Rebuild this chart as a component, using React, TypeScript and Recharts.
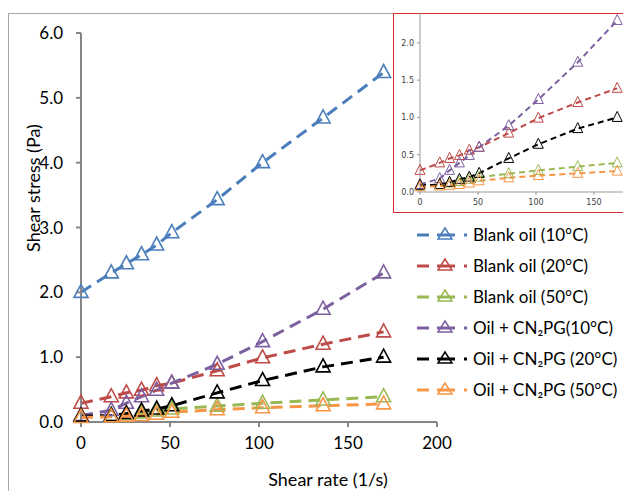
import React from "react";
import { LineChart, Line, XAxis, YAxis } from "recharts";

const shearRate = [0, 17, 25.5, 34, 42.5, 51, 76.5, 102, 136, 170];
const blank10 = [2.0, 2.3, 2.44, 2.58, 2.73, 2.92, 3.43, 4.0, 4.69, 5.39];
const blank20 = [0.29, 0.39, 0.45, 0.49, 0.56, 0.6, 0.79, 0.99, 1.2, 1.39];
const blank50 = [0.08, 0.1, 0.12, 0.14, 0.17, 0.2, 0.245, 0.29, 0.34, 0.39];
const cn10 = [0.1, 0.18, 0.29, 0.39, 0.49, 0.6, 0.89, 1.24, 1.74, 2.3];
const cn20 = [0.09, 0.1, 0.13, 0.17, 0.2, 0.25, 0.45, 0.64, 0.85, 1.0];
const cn50 = [0.07, 0.08, 0.09, 0.1, 0.12, 0.15, 0.19, 0.22, 0.25, 0.28];

const seriesNames = [
  "Blank oil (10°C)",
  "Blank oil (20°C)",
  "Blank oil (50°C)",
  "Oil + CN₂PG(10°C)",
  "Oil + CN₂PG (20°C)",
  "Oil + CN₂PG (50°C)",
];
const seriesKeys = ["blank10", "blank20", "blank50", "cn10", "cn20", "cn50"];
const seriesColors = ["#4a7ebb", "#be4b48", "#98b954", "#7d60a0", "#000000", "#f79646"];
const mainTicksX = [0, 50, 100, 150, 200];
const mainTicksY = [0, 1, 2, 3, 4, 5, 6];
const insetTicksX = [0, 50, 100, 150];
const insetTicksY = [0, 0.5, 1, 1.5, 2];

const seriesValues = [blank10, blank20, blank50, cn10, cn20, cn50];
const data = shearRate.map((x, i) => {
  const row: Record<string, number> = { x };
  seriesKeys.forEach((k, j) => {
    row[k] = seriesValues[j][i];
  });
  return row;
});

const tri = (color: string, hw: number, up: number, down: number, sw: number) => (props: any) => {
  const { cx, cy, index } = props;
  if (cx == null || cy == null) return <g key={`n${index}`} />;
  return (
    <path
      key={`t${index}`}
      d={`M${cx},${cy - up} L${cx - hw},${cy + down} L${cx + hw},${cy + down} Z`}
      fill="none"
      stroke={color}
      strokeWidth={sw}
      strokeLinejoin="miter"
    />
  );
};

const mainFont = "Lato, 'Open Sans', sans-serif";

const LegendContent = () => (
  <div style={{ fontFamily: mainFont, fontSize: 17, color: "#000" }}>
    {seriesNames.map((name, i) => (
      <div key={name} style={{ display: "flex", alignItems: "center", height: 31 }}>
        <svg width={56} height={20} style={{ display: "block" }}>
          <line x1={0} y1={10} x2={12} y2={10} stroke={seriesColors[i]} strokeWidth={3} />
          <line x1={20} y1={10} x2={38} y2={10} stroke={seriesColors[i]} strokeWidth={3} />
          <line x1={47} y1={10} x2={50} y2={10} stroke={seriesColors[i]} strokeWidth={3} />
          <path d="M28,3 L21,14 L35,14 Z" fill="none" stroke={seriesColors[i]} strokeWidth={1.5} />
        </svg>
        <span style={{ whiteSpace: "nowrap" }}>{name}</span>
      </div>
    ))}
  </div>
);

export default function App() {
  return (
    <div
      style={{
        position: "fixed",
        left: 0,
        top: 0,
        width: 623,
        height: 491,
        overflow: "hidden",
        background: "#fff",
      }}
    >
      <div
        style={{
          position: "absolute",
          left: 8,
          top: 13,
          width: 800,
          height: 800,
          border: "1.5px solid #a6a6a6",
          boxSizing: "border-box",
        }}
      />
      <div style={{ position: "absolute", left: 0, top: 0 }}>
        <LineChart
          width={623}
          height={491}
          data={data}
          margin={{ top: 33, right: 186, bottom: 39, left: 21 }}
        >
          <XAxis
            dataKey="x"
            type="number"
            domain={[0, 200]}
            ticks={mainTicksX}
            height={30}
            stroke="#868686"
            strokeWidth={2}
            tickSize={5}
            tickMargin={10}
            tick={{ fill: "#000", fontSize: 17, fontFamily: mainFont }}
          />
          <YAxis
            type="number"
            domain={[0, 6]}
            ticks={mainTicksY}
            width={60}
            stroke="#868686"
            strokeWidth={2}
            tickSize={5}
            tickMargin={13}
            tickFormatter={(v: number) => v.toFixed(1)}
            tick={{ fill: "#000", fontSize: 17, fontFamily: mainFont }}
          />
          {seriesKeys.map((k, i) => (
            <Line
              key={k}
              dataKey={k}
              name={seriesNames[i]}
              stroke={seriesColors[i]}
              strokeWidth={3}
              strokeDasharray="12 7"
              dot={tri(seriesColors[i], 7, 8, 5, 1.6)}
              isAnimationActive={false}
              type="linear"
            />
          ))}
        </LineChart>
      </div>
      <div style={{ position: "absolute", left: 417, top: 219, width: 206 }}>
        <LegendContent />
      </div>
      <div
        style={{
          position: "absolute",
          left: 33,
          top: 188,
          width: 0,
          height: 0,
        }}
      >
        <div
          style={{
            position: "absolute",
            left: 0,
            top: 0,
            transform: "translate(-50%, -50%) rotate(-90deg)",
            whiteSpace: "nowrap",
            fontFamily: mainFont,
            fontSize: 18,
            lineHeight: "24px",
          }}
        >
          Shear stress (Pa)
        </div>
      </div>
      <div
        style={{
          position: "absolute",
          left: 228,
          width: 200,
          top: 467,
          textAlign: "center",
          fontFamily: mainFont,
          fontSize: 18,
          lineHeight: "24px",
          whiteSpace: "nowrap",
        }}
      >
        Shear rate (1/s)
      </div>
      <div
        style={{
          position: "absolute",
          left: 393,
          top: 13,
          width: 400,
          height: 200,
          border: "1.5px solid #d92b2b",
          boxSizing: "border-box",
          background: "#fff",
        }}
      />
      <div style={{ position: "absolute", left: 393, top: 13 }}>
        <LineChart
          width={290}
          height={199}
          data={data}
          margin={{ top: 0, right: 31, bottom: 0, left: 0 }}
        >
          <XAxis
            dataKey="x"
            type="number"
            domain={[0, 200]}
            ticks={insetTicksX}
            height={20}
            stroke="#9a9a9a"
            tickSize={3}
            tickMargin={4}
            tick={{ fill: "#404040", fontSize: 8, fontFamily: "'DejaVu Sans', sans-serif" }}
          />
          <YAxis
            type="number"
            domain={[0, 2.4]}
            ticks={insetTicksY}
            width={27}
            stroke="#9a9a9a"
            tickSize={3}
            tickMargin={3}
            tickFormatter={(v: number) => v.toFixed(1)}
            tick={{ fill: "#404040", fontSize: 8, fontFamily: "'DejaVu Sans', sans-serif" }}
            allowDataOverflow
          />
          {seriesKeys.slice(1).map((k, j) => {
            const i = j + 1;
            return (
              <Line
                key={k}
                dataKey={k}
                stroke={seriesColors[i]}
                strokeWidth={2}
                strokeDasharray="6 4"
                dot={tri(seriesColors[i], 5, 6, 4, 1)}
                isAnimationActive={false}
                type="linear"
              />
            );
          })}
        </LineChart>
      </div>
    </div>
  );
}
